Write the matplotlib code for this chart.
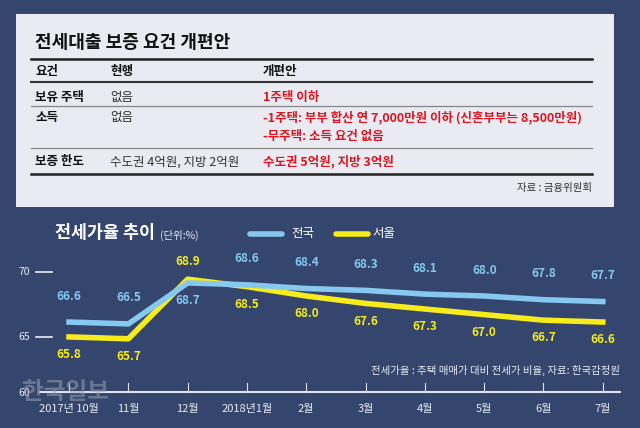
import matplotlib
matplotlib.use("Agg")
import matplotlib.pyplot as plt
from matplotlib.patches import Rectangle
from matplotlib.lines import Line2D

plt.rcParams['font.family'] = ['Noto Sans CJK KR', 'DejaVu Sans']

months = ["2017년 10월", "11월", "12월", "2018년1월", "2월", "3월", "4월", "5월", "6월", "7월"]
national = [66.6, 66.5, 68.7, 68.6, 68.4, 68.3, 68.1, 68.0, 67.8, 67.7]
seoul = [65.8, 65.7, 68.9, 68.5, 68.0, 67.6, 67.3, 67.0, 66.7, 66.6]
yticks = [60, 65, 70]

rows = [("보유 주택", "없음", ["1주택 이하"]),
        ("소득", "없음", ["-1주택: 부부 합산 연 7,000만원 이하 (신혼부부는 8,500만원)", "-무주택: 소득 요건 없음"]),
        ("보증 한도", "수도권 4억원, 지방 2억원", ["수도권 5억원, 지방 3억원"])]

W, H = 640, 428
BG = "#34466e"
BLUE = "#86c8ee"
YEL = "#f7ec1a"
fig = plt.figure(figsize=(6.4, 4.28), dpi=100, facecolor=BG)

def fx(x): return x / W
def fy(y): return 1 - y / H
def t(x, y, s, **kw):
    fig.text(fx(x), fy(y), s, **kw)
def hline(x0, x1, y, lw, c):
    fig.add_artist(Line2D([fx(x0), fx(x1)], [fy(y), fy(y)], lw=lw, color=c))

# table box
fig.add_artist(Rectangle((fx(16), fy(207)), fx(598), 193 / H, facecolor="#e9eaf2", edgecolor="none"))
t(35, 43, "전세대출 보증 요건 개편안", fontsize=13, fontweight="bold", color="#111", va="center")
hline(31, 592, 59, 1.8, "#222")
t(35, 72, "요건", fontsize=9, fontweight="bold", color="#111", va="center")
t(110, 72, "현행", fontsize=9, fontweight="bold", color="#111", va="center")
t(263, 72, "개편안", fontsize=9, fontweight="bold", color="#111", va="center")
hline(31, 592, 82, 1.5, "#333")
ys = [97, 117, 162]
for i, (a, b, cs) in enumerate(rows):
    y = ys[i]
    t(35, y, a, fontsize=9, fontweight="bold", color="#111", va="center")
    t(110, y, b, fontsize=9, color="#333", va="center")
    for j, c in enumerate(cs):
        t(263, y + 19 * j, c, fontsize=9, fontweight="bold", color="#e0141e", va="center")
for y in [106, 148]:
    hline(31, 592, y, 0.9, "#888")
hline(31, 592, 174, 1.8, "#222")
t(592, 188, "자료 : 금융위원회", fontsize=7.5, color="#333", ha="right", va="center")

# chart
ax = fig.add_axes([fx(40), fy(395), fx(580), 145 / H])
ax.set_facecolor("none")
x = list(range(len(months)))
ax.plot(x, national, color=BLUE, lw=4, solid_joinstyle="round", zorder=3)
ax.plot(x, seoul, color=YEL, lw=4, solid_joinstyle="round", zorder=2)
ax.set_xlim(-0.49, 9.29)
ax.set_ylim(62.68, 70.47)
ax.axis("off")
nat_above = [True, True, False, True, True, True, True, True, True, True]
for i in x:
    if nat_above[i]:
        ax.annotate(f"{national[i]:.1f}", (i, national[i]), xytext=(0, 14), textcoords="offset points",
                    ha="center", va="bottom", color=BLUE, fontsize=8.5, fontweight="bold")
        ax.annotate(f"{seoul[i]:.1f}", (i, seoul[i]), xytext=(0, -8), textcoords="offset points",
                    ha="center", va="top", color=YEL, fontsize=8.5, fontweight="bold")
    else:
        ax.annotate(f"{national[i]:.1f}", (i, national[i]), xytext=(0, -8), textcoords="offset points",
                    ha="center", va="top", color=BLUE, fontsize=8.5, fontweight="bold")
        ax.annotate(f"{seoul[i]:.1f}", (i, seoul[i]), xytext=(0, 8), textcoords="offset points",
                    ha="center", va="bottom", color=YEL, fontsize=8.5, fontweight="bold")
for i in x:
    ax.plot([i, i], [62.84, 63.3], color="#dfe3ee", lw=0.8, clip_on=False)
    ax.text(i, 61.95, months[i], ha="center", va="center", color="#e8ebf3", fontsize=8)
ax.plot([-0.49, 9.29], [62.84, 62.84], color="#dfe3ee", lw=1.5, clip_on=False)

# y tick labels (infographic positions)
for v, py in zip(yticks, [393, 337, 272]):
    t(30, py, f"{v}", ha="right", va="center", color="#e8ebf3", fontsize=7.5)
    if v > 60:
        hline(36, 52, py, 1.2, "#e8ebf3")

t(55, 233, "전세가율 추이", fontsize=12.5, fontweight="bold", color="white", va="center")
t(160, 235, "(단위:%)", fontsize=7.5, color="#e8ebf3", va="center")
fig.add_artist(Line2D([fx(250), fx(282)], [fy(234), fy(234)], lw=4, color=BLUE, solid_capstyle="round"))
t(291, 234, "전국", fontsize=9, color="white", va="center")
fig.add_artist(Line2D([fx(336), fx(368)], [fy(234), fy(234)], lw=4, color=YEL, solid_capstyle="round"))
t(372, 234, "서울", fontsize=9, color="white", va="center")
t(620, 370, "전세가율 : 주택 매매가 대비 전세가 비율, 자료: 한국감정원", fontsize=7.5, color="#e8ebf3", ha="right", va="center")
t(22, 392, "한국일보", fontsize=17, fontweight="bold", color="#9aa0ad", alpha=0.55, va="center")

fig.savefig("out.png", dpi=100, facecolor=BG)
